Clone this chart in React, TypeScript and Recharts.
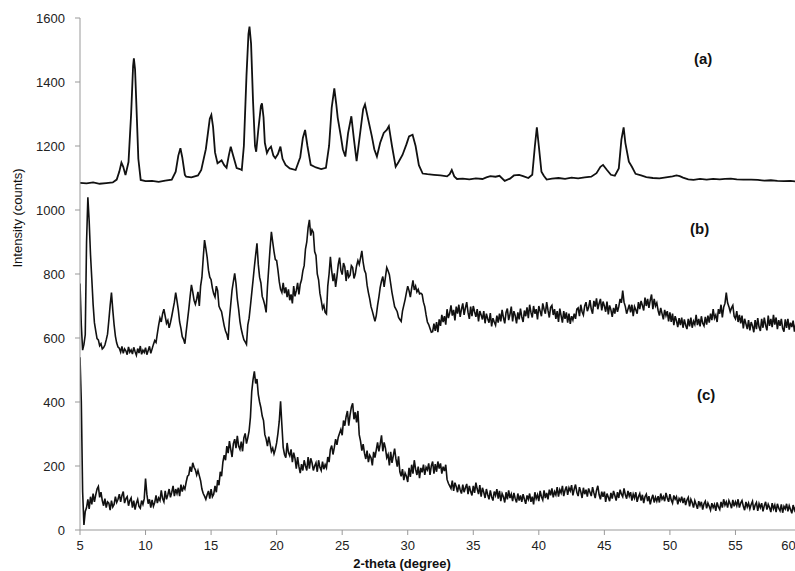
import { LineChart, Line, XAxis, YAxis } from "recharts";

// pattern (a): 2-theta (degree), intensity (counts)
const patternA: [number, number][] = [
  [5.0, 1085], [5.5, 1083], [6.0, 1086], [6.5, 1082], [7.0, 1084], [7.5, 1086], [7.8, 1095],
  [8.0, 1120], [8.16, 1148], [8.3, 1135], [8.47, 1109], [8.7, 1150], [8.9, 1300], [9.05, 1450],
  [9.11, 1474], [9.2, 1440], [9.3, 1330], [9.45, 1160], [9.63, 1094], [10.0, 1090], [10.5, 1091],
  [11.0, 1088], [11.5, 1092], [12.0, 1095], [12.3, 1120], [12.5, 1170], [12.66, 1193], [12.8, 1165],
  [13.0, 1110], [13.1, 1104], [13.5, 1102], [14.0, 1108], [14.25, 1125], [14.6, 1190], [14.9, 1285],
  [15.02, 1297], [15.15, 1260], [15.3, 1180], [15.49, 1146], [15.8, 1155], [16.0, 1140], [16.18, 1132],
  [16.35, 1170], [16.5, 1198], [16.65, 1175], [16.95, 1131], [17.2, 1128], [17.34, 1125], [17.5, 1200],
  [17.7, 1420], [17.85, 1550], [17.93, 1573], [18.05, 1520], [18.2, 1340], [18.35, 1200], [18.44, 1182],
  [18.6, 1250], [18.8, 1325], [18.88, 1333], [19.0, 1290], [19.1, 1210], [19.26, 1178], [19.4, 1190],
  [19.57, 1198], [19.75, 1170], [19.9, 1162], [20.1, 1175], [20.29, 1198], [20.45, 1160], [20.68, 1141],
  [21.0, 1130], [21.45, 1125], [21.8, 1165], [22.0, 1225], [22.17, 1250], [22.35, 1200], [22.6, 1141],
  [23.0, 1133], [23.4, 1128], [23.76, 1132], [24.0, 1200], [24.2, 1320], [24.4, 1380], [24.55, 1330],
  [24.66, 1288], [24.9, 1230], [25.05, 1190], [25.24, 1167], [25.45, 1240], [25.7, 1293], [25.9, 1220],
  [26.1, 1153], [26.4, 1250], [26.6, 1315], [26.74, 1330], [27.0, 1280], [27.26, 1231], [27.45, 1190],
  [27.65, 1167], [27.9, 1210], [28.17, 1241], [28.4, 1250], [28.56, 1262], [28.8, 1200], [29.08, 1135],
  [29.3, 1150], [29.6, 1172], [29.9, 1205], [30.1, 1230], [30.37, 1235], [30.6, 1200], [30.85, 1140],
  [31.14, 1114], [31.5, 1112], [32.0, 1110], [32.5, 1108], [33.0, 1105], [33.2, 1112], [33.36, 1125],
  [33.55, 1105], [33.76, 1097], [34.2, 1098], [34.7, 1096], [35.2, 1099], [35.7, 1097], [36.0, 1102],
  [36.3, 1106], [36.7, 1104], [37.0, 1107], [37.4, 1091], [37.8, 1098], [38.1, 1108], [38.5, 1110],
  [38.8, 1106], [39.2, 1100], [39.5, 1110], [39.7, 1200], [39.85, 1258], [40.0, 1200], [40.2, 1120],
  [40.38, 1107], [40.6, 1095], [41.0, 1098], [41.5, 1100], [42.0, 1097], [42.5, 1101], [43.0, 1099],
  [43.5, 1102], [44.0, 1104], [44.4, 1115], [44.7, 1135], [44.9, 1141], [45.2, 1125], [45.5, 1110],
  [45.8, 1107], [46.1, 1130], [46.3, 1220], [46.47, 1258], [46.6, 1210], [46.87, 1151], [47.1, 1135],
  [47.38, 1113], [47.8, 1108], [48.2, 1103], [48.7, 1100], [49.2, 1099], [49.7, 1102], [50.2, 1105],
  [50.5, 1108], [50.75, 1106], [51.0, 1101], [51.4, 1096], [51.8, 1094], [52.3, 1097], [52.8, 1095],
  [53.3, 1097], [53.8, 1096], [54.2, 1097], [54.65, 1098], [55.1, 1096], [55.6, 1095], [56.2, 1095],
  [56.7, 1094], [57.2, 1092], [57.7, 1093], [58.2, 1091], [58.7, 1090], [59.2, 1091], [59.6, 1089],
  [60.0, 1089],
];

// patterns (b) and (c): step scans, 5.0 to 60.0 deg in 0.1 deg steps (one row per degree)
const SCAN_START = 5;
const SCAN_STEP = 0.1;

const countsB = [
  770, 640, 562, 580, 610, 900, 1040, 965, 862, 785,
  705, 648, 622, 598, 594, 576, 582, 566, 570, 578,
  594, 612, 655, 702, 742, 688, 642, 606, 584, 572,
  568, 556, 574, 552, 566, 560, 548, 572, 556, 563,
  550, 571, 558, 546, 567, 553, 575, 549, 562, 555,
  570, 548, 561, 574, 552, 566, 580, 592, 586, 614,
  640, 662, 650, 676, 690, 668, 646, 655, 632, 648,
  668, 690, 712, 742, 716, 688, 650, 630, 604, 596,
  582, 620, 655, 690, 730, 766, 744, 718, 706, 722,
  744, 700, 762, 790, 850, 906, 880, 852, 812, 790,
  782, 756, 738, 728, 762, 748, 700, 690, 682, 660,
  638, 622, 612, 594, 660, 706, 750, 776, 802, 770,
  722, 690, 652, 628, 610, 595, 588, 580, 640, 662,
  700, 740, 780, 822, 860, 896, 830, 790, 772, 730,
  718, 702, 680, 760, 820, 880, 932, 900, 870, 845,
  842, 812, 776, 752, 742, 772, 740, 758, 728, 752,
  718, 736, 708, 762, 730, 748, 772, 736, 768, 782,
  810, 826, 878, 900, 944, 969, 920, 938, 930, 870,
  858, 800, 782, 740, 718, 692, 702, 680, 675, 762,
  800, 854, 810, 778, 802, 760, 792, 830, 851, 812,
  798, 834, 822, 778, 812, 790, 796, 826, 820, 786,
  800, 826, 842, 830, 850, 872, 836, 812, 802, 765,
  742, 722, 698, 684, 668, 652, 670, 702, 728, 758,
  778, 792, 760, 790, 820, 810, 798, 770, 742, 720,
  698, 690, 682, 664, 658, 652, 684, 702, 720, 742,
  762, 748, 728, 756, 780, 750, 762, 744, 752, 738,
  740, 736, 712, 698, 672, 650, 642, 630, 618, 620,
  645, 622, 650, 618, 658, 638, 672, 650, 668, 642,
  690, 662, 678, 702, 670, 688, 655, 698, 676, 704,
  666, 690, 708, 672, 694, 712, 680, 660, 698, 668,
  700, 682, 666, 690, 652, 684, 672, 658, 684, 646,
  676, 660, 648, 678, 636, 662, 650, 640, 670, 648,
  676, 652, 688, 664, 646, 680, 692, 656, 674, 698,
  652, 684, 670, 646, 680, 658, 692, 666, 650, 686,
  668, 696, 662, 704, 680, 664, 700, 676, 690, 658,
  700, 684, 668, 708, 690, 676, 712, 686, 664, 696,
  702, 672, 690, 660, 684, 650, 692, 670, 648, 684,
  660, 680, 648, 676, 644, 668, 656, 676, 660, 690,
  694, 668, 704, 682, 672, 700, 712, 684, 696, 718,
  690, 676, 716, 698, 724, 690, 708, 722, 686, 714,
  700, 682, 714, 674, 702, 688, 666, 694, 676, 706,
  682, 698, 722, 710, 748, 712, 698, 676, 690, 704,
  680, 704, 668, 698, 688, 676, 712, 690, 716, 702,
  686, 726, 700, 722, 694, 718, 736, 690, 722, 700,
  710, 686, 670, 694, 676, 658, 688, 670, 684, 652,
  680, 650, 676, 640, 668, 654, 634, 662, 640, 664,
  632, 658, 640, 628, 660, 636, 664, 632, 652, 642,
  672, 640, 660, 636, 668, 646, 638, 666, 642, 670,
  648, 676, 656, 690, 662, 672, 650, 690, 676, 704,
  664, 696, 708, 742, 710, 698, 682, 694, 702, 668,
  660, 684, 650, 672, 646, 670, 630, 660, 644, 628,
  656, 624, 650, 638, 618, 656, 628, 662, 634, 622,
  660, 632, 664, 640, 624, 670, 638, 660, 634, 672,
  642, 664, 628, 656, 638, 660, 630, 620, 658, 632,
  660, 626, 648, 634, 654, 620, 644, 630, 656, 624,
  640,
];

const countsC = [
  540, 400, 120, 16, 58, 70, 96, 66, 104, 80,
  114, 88, 110, 128, 136, 102, 118, 92, 76, 98,
  70, 88, 84, 62, 92, 72, 80, 104, 86, 96,
  112, 88, 108, 120, 84, 98, 104, 76, 92, 100,
  70, 92, 64, 84, 96, 74, 68, 92, 80, 98,
  161, 112, 82, 96, 70, 94, 74, 86, 108, 84,
  100, 92, 124, 98, 88, 122, 96, 110, 128, 102,
  118, 138, 106, 128, 114, 132, 106, 142, 120, 136,
  128, 150, 168, 172, 198, 182, 210, 196, 188, 172,
  186, 170, 154, 128, 114, 106, 96, 110, 122, 98,
  128, 104, 112, 138, 118, 156, 140, 182, 168, 212,
  234, 218, 262, 240, 278, 252, 228, 270, 284, 256,
  294, 262, 252, 276, 246, 288, 302, 270, 288, 310,
  352, 432, 470, 496, 458, 472, 424, 400, 382, 356,
  342, 298, 284, 262, 292, 270, 246, 256, 238, 252,
  272, 302, 340, 402, 328, 258, 236, 226, 272, 242,
  232, 252, 212, 242, 224, 192, 228, 198, 178, 206,
  186, 218, 200, 186, 228, 192, 224, 210, 186, 200,
  210, 182, 218, 196, 186, 214, 190, 204, 194, 228,
  212, 252, 264, 236, 258, 284, 266, 290, 302, 314,
  296, 342, 326, 354, 372, 326, 360, 384, 396, 346,
  368, 336, 372, 298, 278, 248, 268, 240, 222, 248,
  212, 234, 226, 202, 244, 226, 250, 274, 246, 268,
  296, 246, 274, 256, 226, 236, 202, 244, 210, 232,
  254, 222, 198, 230, 182, 168, 190, 156, 178, 168,
  150, 194, 166, 204, 176, 218, 190, 172, 198, 162,
  194, 180, 204, 172, 196, 188, 208, 172, 200, 214,
  176, 206, 182, 214, 192, 208, 176, 198, 184, 204,
  158, 146, 138, 130, 154, 122, 148, 136, 118, 142,
  126, 114, 142, 118, 132, 144, 112, 138, 120, 108,
  138, 116, 148, 128, 112, 140, 104, 132, 118, 100,
  128, 110, 96, 124, 104, 92, 120, 108, 128, 98,
  122, 90, 114, 104, 86, 118, 96, 124, 100, 112,
  90, 116, 98, 86, 114, 92, 108, 88, 112, 96,
  82, 108, 96, 114, 88, 104, 80, 118, 98, 110,
  90, 122, 104, 94, 124, 100, 116, 96, 126, 108,
  130, 102, 120, 110, 134, 104, 126, 116, 138, 106,
  124, 136, 110, 132, 122, 140, 108, 128, 142, 118,
  106, 134, 120, 100, 132, 112, 126, 104, 130, 118,
  106, 134, 116, 100, 124, 138, 110, 96, 120, 104,
  120, 88, 114, 102, 90, 116, 98, 122, 108, 92,
  118, 100, 126, 112, 104, 130, 110, 98, 122, 106,
  118, 92, 112, 100, 118, 88, 104, 114, 92, 110,
  84, 104, 112, 90, 106, 80, 98, 110, 86, 102,
  90, 106, 86, 114, 96, 104, 90, 116, 100, 88,
  112, 94, 84, 108, 96, 104, 80, 98, 90, 104,
  84, 100, 78, 94, 102, 74, 96, 86, 70, 92,
  80, 66, 90, 76, 88, 64, 82, 90, 68, 84,
  74, 62, 84, 70, 80, 60, 86, 72, 64, 88,
  70, 96, 78, 88, 70, 92, 82, 68, 94, 74,
  88, 76, 96, 70, 84, 92, 74, 62, 88, 72,
  84, 66, 80, 90, 62, 78, 86, 60, 82, 70,
  84, 58, 76, 88, 64, 80, 70, 56, 84, 66,
  78, 56, 82, 68, 60, 80, 54, 74, 66, 82,
  58, 76, 64, 52, 78, 62, 72, 54, 76, 60,
  60,
];

const xTicks = [5, 10, 15, 20, 25, 30, 35, 40, 45, 50, 55, 60];
const yTicks = [0, 200, 400, 600, 800, 1000, 1200, 1400, 1600];
const curveLabels = ["(a)", "(b)", "(c)"];

const fromPairs = (arr: [number, number][]) => arr.map(([x, y]) => ({ x, y }));
const fromScan = (counts: number[]) =>
  counts.map((y, i) => ({ x: Math.round((SCAN_START + i * SCAN_STEP) * 10) / 10, y }));

const tickStyle = { fontSize: 13, fill: "#222", fontFamily: "Liberation Sans, Arial, sans-serif" };

const labelPos = [
  { left: 694, top: 50 },
  { left: 690, top: 220 },
  { left: 697, top: 386 },
];

export default function App() {
  return (
    <div style={{ position: "absolute", left: 0, top: 0, width: 795, height: 571, background: "#fff", overflow: "hidden" }}>
      <LineChart width={795} height={571} margin={{ top: 18, right: -6, left: 0, bottom: 11 }}>
        <XAxis
          type="number"
          dataKey="x"
          domain={[5, 60]}
          ticks={xTicks}
          height={30}
          tickSize={5}
          tickMargin={6}
          stroke="#999"
          tick={tickStyle}
          allowDataOverflow
        />
        <YAxis
          type="number"
          dataKey="y"
          domain={[0, 1600]}
          ticks={yTicks}
          width={80}
          tickSize={5}
          tickMargin={10}
          stroke="#999"
          tick={tickStyle}
        />
        <Line data={fromPairs(patternA)} dataKey="y" type="linear" stroke="#111" strokeWidth={1.8} dot={false} isAnimationActive={false} />
        <Line data={fromScan(countsB)} dataKey="y" type="linear" stroke="#111" strokeWidth={1.6} dot={false} isAnimationActive={false} />
        <Line data={fromScan(countsC)} dataKey="y" type="linear" stroke="#111" strokeWidth={1.6} dot={false} isAnimationActive={false} />
      </LineChart>

      {curveLabels.map((t, i) => (
        <div
          key={t}
          style={{
            position: "absolute",
            left: labelPos[i].left,
            top: labelPos[i].top,
            fontFamily: "Liberation Sans, Arial, sans-serif",
            fontWeight: "bold",
            fontSize: 15,
            color: "#111",
          }}
        >
          {t}
        </div>
      ))}

      <div
        style={{
          position: "absolute",
          left: 17,
          top: 218,
          transform: "translate(-50%, -50%) rotate(-90deg)",
          fontFamily: "Liberation Sans Narrow, Arial Narrow, sans-serif",
          fontSize: 13,
          color: "#111",
          whiteSpace: "nowrap",
        }}
      >
        Intensity (counts)
      </div>

      <div
        style={{
          position: "absolute",
          left: 402,
          top: 563,
          transform: "translate(-50%, -50%)",
          fontFamily: "Liberation Sans, Arial, sans-serif",
          fontWeight: "bold",
          fontSize: 13,
          color: "#111",
          whiteSpace: "nowrap",
        }}
      >
        2-theta (degree)
      </div>
    </div>
  );
}
